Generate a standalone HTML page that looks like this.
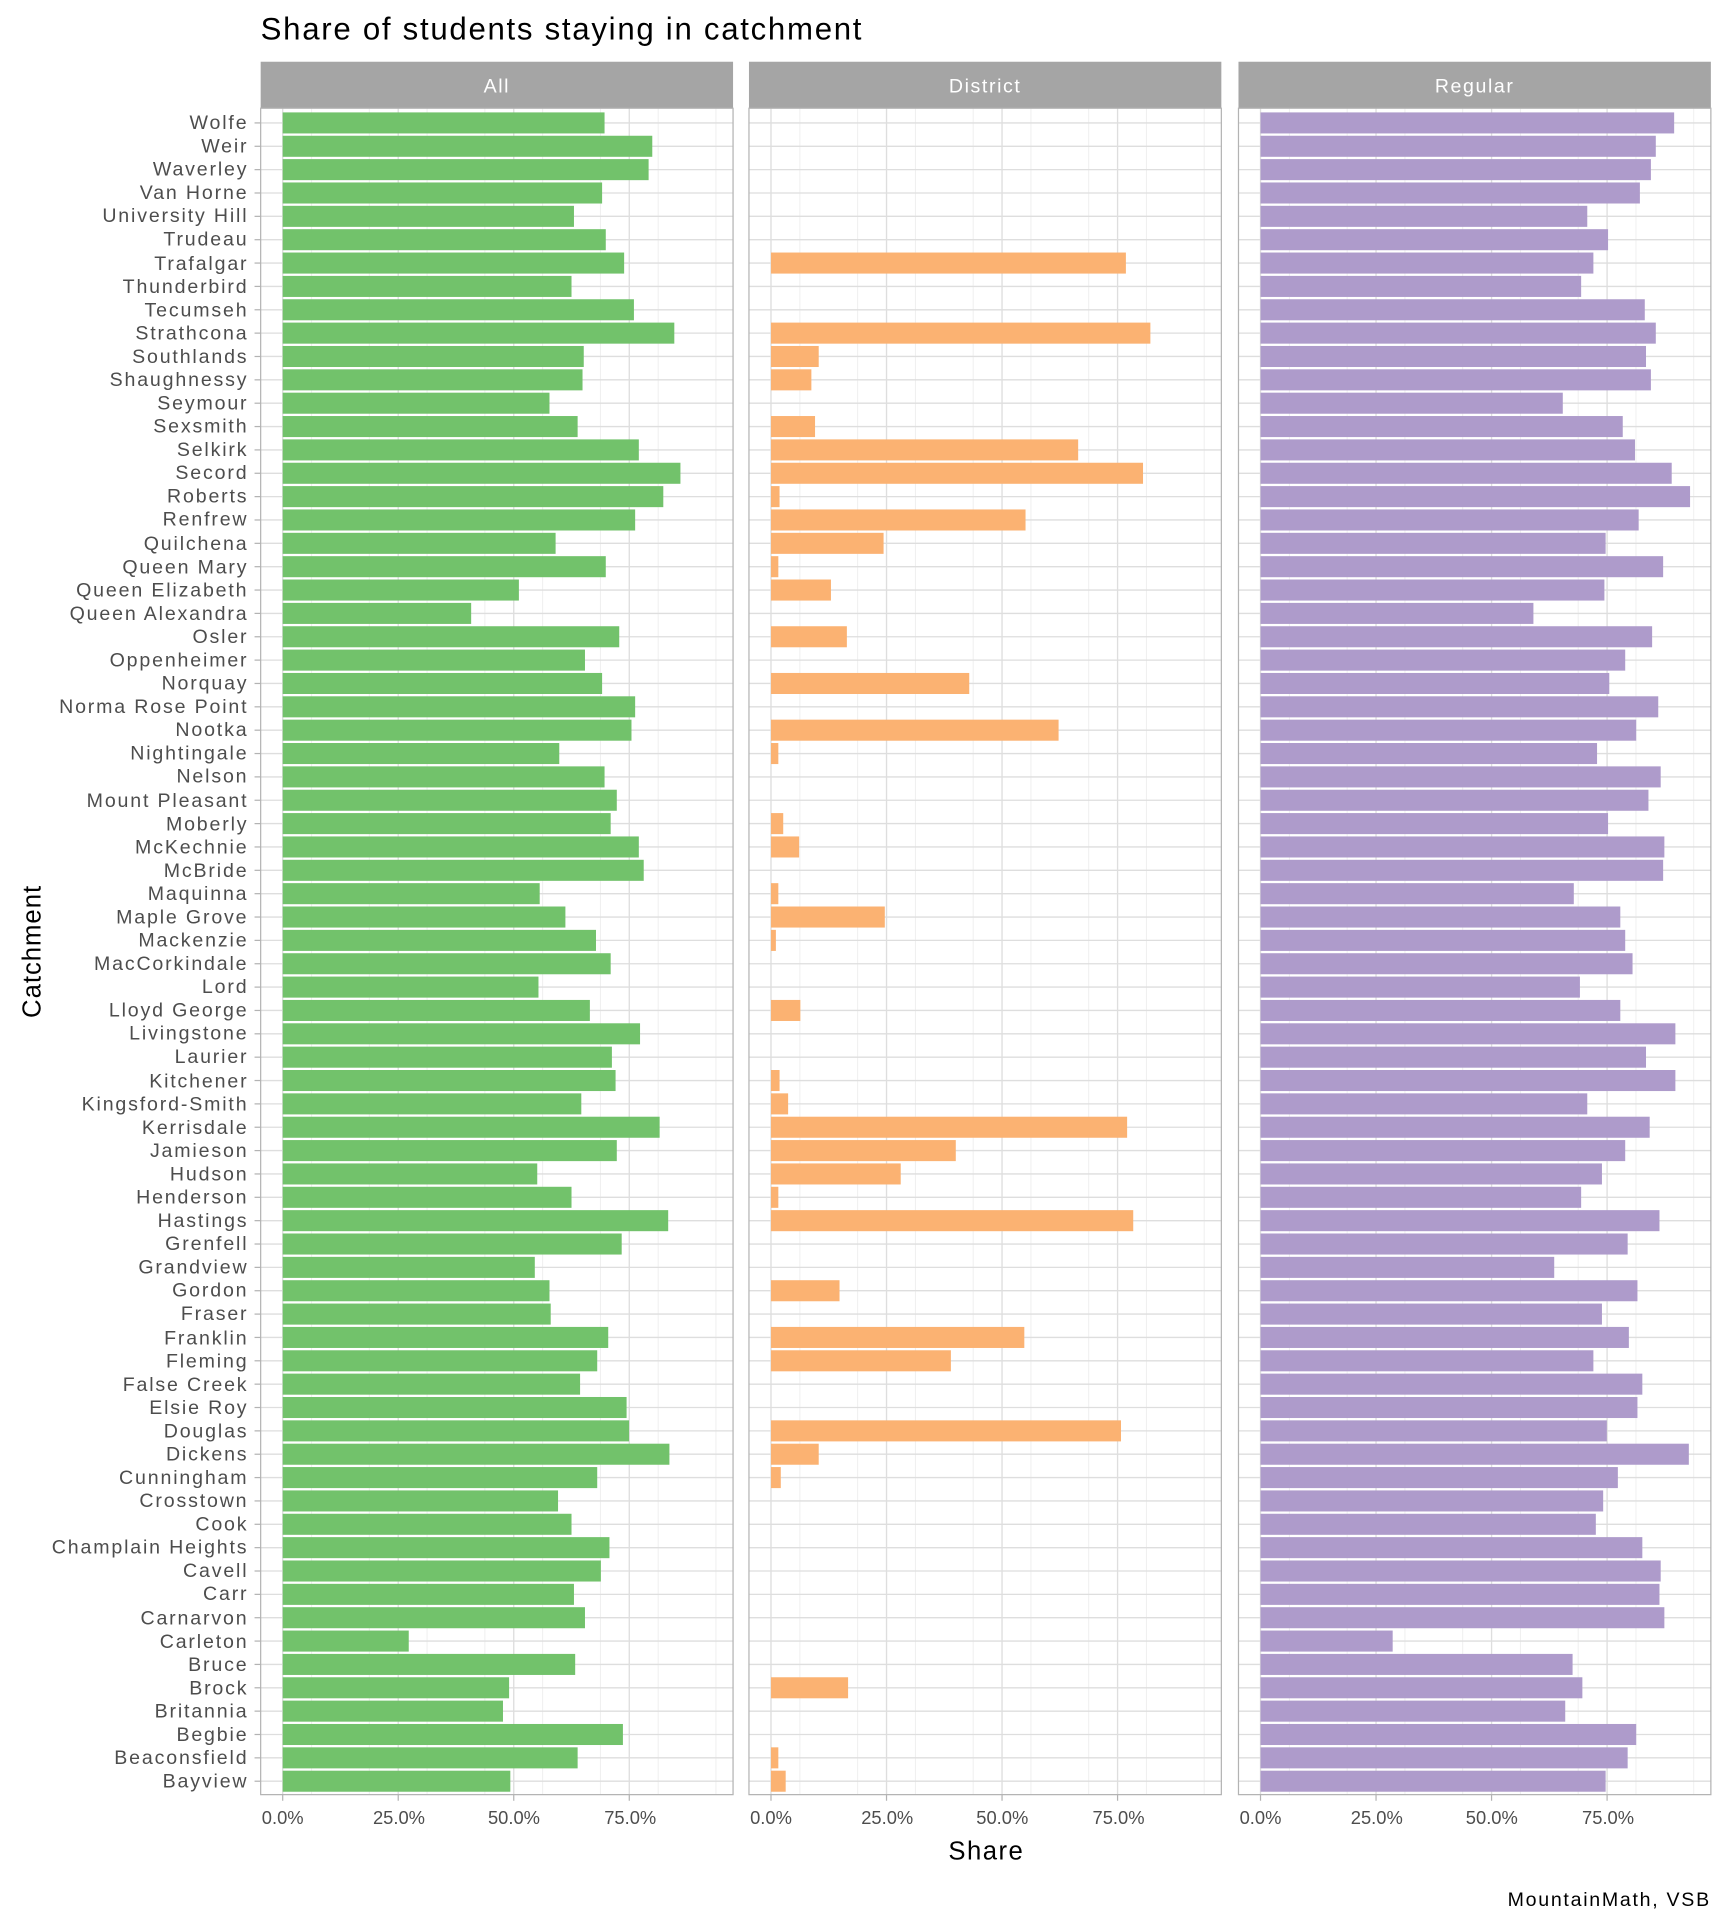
<!DOCTYPE html>
<html><head><meta charset="utf-8"><style>
html,body{margin:0;padding:0;background:#fff}
svg{display:block}
text{font-family:"Liberation Sans",Arial,sans-serif}
</style></head><body>
<svg id="s" width="1728" height="1920" viewBox="0 0 1412 1568" xmlns="http://www.w3.org/2000/svg">
<rect width="1412" height="1568" fill="#fff"/>
<text x="213" y="32" font-size="25.5" letter-spacing="1.4" fill="#000">Share of students staying in catchment</text>
<g id="panels"></g>
<g font-size="15" fill="#4d4d4d" text-anchor="middle">
<text x="231" y="1490">0.0%</text><text x="326" y="1490">25.0%</text><text x="420" y="1490">50.0%</text><text x="515" y="1490">75.0%</text>
<text x="630" y="1490">0.0%</text><text x="725" y="1490">25.0%</text><text x="819" y="1490">50.0%</text><text x="914" y="1490">75.0%</text>
<text x="1030" y="1490">0.0%</text><text x="1125" y="1490">25.0%</text><text x="1219" y="1490">50.0%</text><text x="1314" y="1490">75.0%</text>
</g>
<g font-size="16" letter-spacing="1.3" fill="#fff" text-anchor="middle">
<text x="406" y="75">All</text><text x="805" y="75">District</text><text x="1205" y="75">Regular</text>
</g>
<text x="806" y="1519" font-size="21" letter-spacing="1.2" text-anchor="middle" fill="#000">Share</text>
<text transform="translate(33,777) rotate(-90)" font-size="21" letter-spacing="0.8" text-anchor="middle" fill="#000">Catchment</text>
<text x="1398" y="1557" font-size="16" letter-spacing="1.4" text-anchor="end" fill="#000">MountainMath, VSB</text>
<g font-size="16" letter-spacing="1.5" fill="#4d4d4d" text-anchor="end">
<text x="203" y="105">Wolfe</text>
<text x="203" y="124">Weir</text>
<text x="203" y="143">Waverley</text>
<text x="203" y="162">Van Horne</text>
<text x="203" y="181">University Hill</text>
<text x="203" y="200">Trudeau</text>
<text x="203" y="220">Trafalgar</text>
<text x="203" y="239">Thunderbird</text>
<text x="203" y="258">Tecumseh</text>
<text x="203" y="277">Strathcona</text>
<text x="203" y="296">Southlands</text>
<text x="203" y="315">Shaughnessy</text>
<text x="203" y="334">Seymour</text>
<text x="203" y="353">Sexsmith</text>
<text x="203" y="372">Selkirk</text>
<text x="203" y="391">Secord</text>
<text x="203" y="410">Roberts</text>
<text x="203" y="429">Renfrew</text>
<text x="203" y="449">Quilchena</text>
<text x="203" y="468">Queen Mary</text>
<text x="203" y="487">Queen Elizabeth</text>
<text x="203" y="506">Queen Alexandra</text>
<text x="203" y="525">Osler</text>
<text x="203" y="544">Oppenheimer</text>
<text x="203" y="563">Norquay</text>
<text x="203" y="582">Norma Rose Point</text>
<text x="203" y="601">Nootka</text>
<text x="203" y="620">Nightingale</text>
<text x="203" y="639">Nelson</text>
<text x="203" y="659">Mount Pleasant</text>
<text x="203" y="678">Moberly</text>
<text x="203" y="697">McKechnie</text>
<text x="203" y="716">McBride</text>
<text x="203" y="735">Maquinna</text>
<text x="203" y="754">Maple Grove</text>
<text x="203" y="773">Mackenzie</text>
<text x="203" y="792">MacCorkindale</text>
<text x="203" y="811">Lord</text>
<text x="203" y="830">Lloyd George</text>
<text x="203" y="849">Livingstone</text>
<text x="203" y="868">Laurier</text>
<text x="203" y="888">Kitchener</text>
<text x="203" y="907">Kingsford-Smith</text>
<text x="203" y="926">Kerrisdale</text>
<text x="203" y="945">Jamieson</text>
<text x="203" y="964">Hudson</text>
<text x="203" y="983">Henderson</text>
<text x="203" y="1002">Hastings</text>
<text x="203" y="1021">Grenfell</text>
<text x="203" y="1040">Grandview</text>
<text x="203" y="1059">Gordon</text>
<text x="203" y="1078">Fraser</text>
<text x="203" y="1098">Franklin</text>
<text x="203" y="1117">Fleming</text>
<text x="203" y="1136">False Creek</text>
<text x="203" y="1155">Elsie Roy</text>
<text x="203" y="1174">Douglas</text>
<text x="203" y="1193">Dickens</text>
<text x="203" y="1212">Cunningham</text>
<text x="203" y="1231">Crosstown</text>
<text x="203" y="1250">Cook</text>
<text x="203" y="1269">Champlain Heights</text>
<text x="203" y="1288">Cavell</text>
<text x="203" y="1307">Carr</text>
<text x="203" y="1327">Carnarvon</text>
<text x="203" y="1346">Carleton</text>
<text x="203" y="1365">Bruce</text>
<text x="203" y="1384">Brock</text>
<text x="203" y="1403">Britannia</text>
<text x="203" y="1422">Begbie</text>
<text x="203" y="1441">Beaconsfield</text>
<text x="203" y="1460">Bayview</text>
</g>
</svg>
<script>
var d=[[494,0,1368],[533,0,1353],[530,0,1349],[492,0,1340],[469,0,1297],[495,0,1314],[510,920,1302],[467,0,1292],[518,0,1344],[551,940,1353],[477,669,1345],[476,663,1349],[449,0,1277],[472,666,1326],[522,881,1336],[556,934,1366],[542,637,1381],[519,838,1339],[454,722,1312],[495,636,1359],[424,679,1311],[385,0,1253],[506,692,1350],[478,0,1328],[492,792,1315],[519,0,1355],[516,865,1337],[457,636,1305],[494,0,1357],[504,0,1347],[499,640,1314],[522,653,1360],[526,0,1359],[441,636,1286],[462,723,1324],[487,634,1328],[499,0,1334],[440,0,1291],[482,654,1324],[523,0,1369],[500,0,1345],[503,637,1369],[475,644,1297],[539,921,1348],[504,781,1328],[439,736,1309],[467,636,1292],[546,926,1356],[508,0,1330],[437,0,1270],[449,686,1338],[450,0,1309],[497,837,1331],[488,777,1302],[474,0,1342],[512,0,1338],[514,916,1313],[547,669,1380],[488,638,1322],[456,0,1310],[467,0,1304],[498,0,1342],[491,0,1357],[469,0,1356],[478,0,1360],[334,0,1138],[470,0,1285],[416,693,1293],[411,0,1279],[509,0,1337],[472,636,1330],[417,642,1312]];
var px=[213,612,1012],z=[231,630,1030],cols=["#72c26b","#fbb272","#ae9bcb"];
var s="";
for(var p=0;p<3;p++){
 var L=px[p],R=L+386;
 s+='<rect x="'+L+'" y="50" width="386" height="38" fill="#a5a5a5"/>';
 s+='<rect x="'+L+'" y="88" width="386" height="1378" fill="#fff"/>';
 for(var k=0;k<8;k++){var x=z[p]+k*47.2+23.6; if(x<R) s+='<line x1="'+x+'" x2="'+x+'" y1="88" y2="1466" stroke="#efefef" stroke-width="0.8"/>';}
 for(var k=0;k<4;k++){var x=z[p]+k*94.4; s+='<line x1="'+x+'" x2="'+x+'" y1="88" y2="1466" stroke="#dedede" stroke-width="1.1"/>';}
 for(var i=0;i<72;i++){var y=100+i*19.085; s+='<line x1="'+L+'" x2="'+R+'" y1="'+y+'" y2="'+y+'" stroke="#dedede" stroke-width="1.1"/>';}
 for(var i=0;i<72;i++){var e=d[i][p]; if(!e) continue; var x0=z[p]; var y=100+i*19.085-8.6; s+='<rect x="'+x0+'" y="'+y+'" width="'+(e-x0)+'" height="17.2" fill="'+cols[p]+'"/>';}
 s+='<rect x="'+L+'" y="88" width="386" height="1378" fill="none" stroke="#b3b3b3" stroke-width="1"/>';
 for(var k=0;k<4;k++){var x=z[p]+k*94.4; s+='<line x1="'+x+'" x2="'+x+'" y1="1466" y2="1471" stroke="#b3b3b3"/>';}
}
for(var i=0;i<72;i++){var y=100+i*19.085; s+='<line x1="208" x2="213" y1="'+y+'" y2="'+y+'" stroke="#b3b3b3"/>';}
document.getElementById("panels").innerHTML=s;
</script>
</body></html>
